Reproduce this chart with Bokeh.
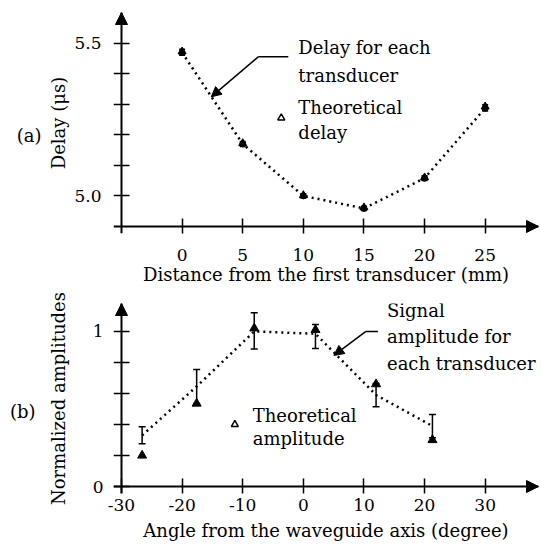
from bokeh.plotting import figure
from bokeh.layouts import column
from bokeh.models import (Range1d, FixedTicker, Whisker, TeeHead, Arrow, NormalHead,
                          Label, ColumnDataSource, LinearAxis, PrintfTickFormatter)
from bokeh.embed import file_html
from bokeh.resources import INLINE

# ---- data (a) ----
dist = [0, 5, 10, 15, 20, 25]
delay = [5.469, 5.170, 5.000, 4.959, 5.058, 5.287]
delay_theory = [5.472, 5.172, 5.002, 4.962, 5.060, 5.292]
delay_lo = [5.460, 5.162, 4.993, 4.952, 5.050, 5.278]
delay_hi = [5.480, 5.178, 5.007, 4.966, 5.066, 5.298]
delay_ticks = [5.0, 5.1, 5.2, 5.3, 5.4, 5.5]
delay_label_ticks = [5.0, 5.5]
dist_ticks = [0, 5, 10, 15, 20, 25]

# ---- data (b) ----
angle = [-26.6, -17.6, -8.1, 2.0, 12.0, 21.3]
amp = [0.33, 0.645, 1.0, 0.985, 0.59, 0.39]
amp_lo = [0.275, 0.535, 0.886, 0.89, 0.515, 0.315]
amp_hi = [0.385, 0.755, 1.12, 1.045, 0.665, 0.465]
amp_theory = [0.20, 0.535, 1.02, 1.01, 0.66, 0.30]
amp_ticks = [0.0, 0.2, 0.4, 0.6, 0.8, 1.0]
amp_label_ticks = [0, 1]
angle_ticks = [-30, -20, -10, 0, 10, 20, 30]

FONT = "DejaVu Serif"
TICK_FS = "17px"
LAB_FS = "18px"
TXT_FS = "18px"


def style(p, xticks, yticks, ylabel_ticks, x_origin, y_origin, yfmt):
    p.grid.visible = False
    p.outline_line_color = None
    p.background_fill_color = "white"
    p.border_fill_color = "white"
    p.xaxis.ticker = FixedTicker(ticks=xticks)
    p.yaxis.ticker = FixedTicker(ticks=ylabel_ticks)
    p.xaxis.formatter = PrintfTickFormatter(format="%d")
    p.yaxis.formatter = PrintfTickFormatter(format=yfmt)
    # label-only axes on the frame edges
    for ax in (p.xaxis[0], p.yaxis[0]):
        ax.axis_line_color = None
        ax.major_tick_line_color = None
        ax.minor_tick_line_color = None
        ax.major_tick_in = 0
        ax.major_tick_out = 0
        ax.major_label_text_font = FONT
        ax.major_label_text_font_size = TICK_FS
        ax.major_label_text_color = "black"
        ax.axis_label_text_font = FONT
        ax.axis_label_text_font_size = LAB_FS
        ax.axis_label_text_font_style = "normal"
        ax.axis_label_text_color = "black"
    # line-and-tick axes through the origin (no labels)
    common = dict(axis_line_width=2, axis_line_color="black", major_tick_line_width=1.5,
                  major_tick_line_color="black", major_tick_in=8, major_tick_out=8,
                  minor_tick_line_color=None, major_label_text_font_size="0px",
                  major_label_text_color=None, major_label_standoff=0)
    xa = LinearAxis(fixed_location=y_origin, ticker=FixedTicker(ticks=xticks), **common)
    ya = LinearAxis(fixed_location=x_origin, ticker=FixedTicker(ticks=yticks), **common)
    p.add_layout(xa, "above")
    p.add_layout(ya, "left")


def tag(p, text, standoff):
    ax = LinearAxis(axis_label="\n" + text, axis_label_orientation="horizontal",
                    axis_line_color=None, major_tick_line_color=None,
                    minor_tick_line_color=None, major_label_text_font_size="0px",
                    major_label_text_color=None,
                    major_tick_in=0, major_tick_out=0, major_label_standoff=0,
                    axis_label_text_font=FONT, axis_label_text_font_size=TXT_FS,
                    axis_label_text_font_style="normal", axis_label_text_color="black",
                    axis_label_standoff=standoff, ticker=FixedTicker(ticks=[]))
    p.add_layout(ax, "left")


def label(p, x, y, t, size=TXT_FS, align="left"):
    p.add_layout(Label(x=x, y=y, text=t, text_font=FONT, text_font_size=size,
                       text_baseline="middle", text_align=align, text_color="black"))


def arrowhead(p, xs, ys, xe, ye):
    p.add_layout(Arrow(x_start=xs, y_start=ys, x_end=xe, y_end=ye, line_width=2,
                       end=NormalHead(size=12, fill_color="black", line_color="black")))


# ================= panel (a) =================
x0a, x1a, y0a, y1a = -5, 29.4, 4.9, 5.6
p1 = figure(frame_width=425, frame_height=221, output_backend="svg", toolbar_location=None,
            x_range=Range1d(-5.66, x1a), y_range=Range1d(4.877, y1a),
            min_border_left=113, min_border_top=12, min_border_right=1, min_border_bottom=40)
p1.xaxis.axis_label = "Distance from the first transducer (mm)"
p1.yaxis.axis_label = "Delay (μs)"
p1.xaxis.major_label_standoff = 15
p1.xaxis.axis_label_standoff = 0
p1.yaxis.major_label_standoff = 12
p1.yaxis.axis_label_standoff = 2
tag(p1, "(a)", 4)
style(p1, dist_ticks, delay_ticks, delay_label_ticks, x0a, y0a, "%.1f")

src_a = ColumnDataSource(dict(x=dist, y=delay, t=delay_theory, lo=delay_lo, hi=delay_hi))
p1.line("x", "y", source=src_a, line_color="black", line_width=2.5, line_dash="2 4")
p1.add_layout(Whisker(base="x", lower="lo", upper="hi", source=src_a, line_width=1.5,
                      upper_head=TeeHead(size=6, line_width=1.5),
                      lower_head=TeeHead(size=6, line_width=1.5)))
p1.scatter("x", "y", source=src_a, marker="circle", size=6, color="black")
p1.scatter("x", "t", source=src_a, marker="triangle", size=8, color="black")

arrowhead(p1, x1a - 1, y0a, x1a, y0a)
arrowhead(p1, x0a, y1a - 0.02, x0a, y1a)

p1.line([8.76, 6.28], [5.455, 5.455], line_color="black", line_width=1.5)
p1.add_layout(Arrow(x_start=6.28, y_start=5.455, x_end=2.40, y_end=5.324, line_width=1.5,
                    end=NormalHead(size=10, fill_color="black", line_color="black")))
label(p1, 9.59, 5.485, "Delay for each")
label(p1, 9.59, 5.393, "transducer")
label(p1, 9.59, 5.288, "Theoretical")
label(p1, 9.59, 5.209, "delay")
p1.scatter([8.18], [5.255], marker="triangle", size=7, fill_color="white",
           line_color="black", line_width=1.5)

# ================= panel (b) =================
x0b, x1b, y0b, y1b = -30, 38.8, 0.0, 1.18
p2 = figure(frame_width=425, frame_height=190, output_backend="svg", toolbar_location=None,
            x_range=Range1d(-31.32, x1b), y_range=Range1d(-0.045, y1b),
            min_border_left=113, min_border_top=16, min_border_right=1, min_border_bottom=30)
p2.xaxis.axis_label = "Angle from the waveguide axis (degree)"
p2.yaxis.axis_label = "Normalized amplitudes"
p2.xaxis.major_label_standoff = 5
p2.xaxis.axis_label_standoff = 6
p2.yaxis.major_label_standoff = 10
p2.yaxis.axis_label_standoff = 21
tag(p2, "(b)", 9)
style(p2, angle_ticks, amp_ticks, amp_label_ticks, x0b, y0b, "%d")

src_b = ColumnDataSource(dict(x=angle, y=amp, t=amp_theory, lo=amp_lo, hi=amp_hi))
p2.line("x", "y", source=src_b, line_color="black", line_width=2.5, line_dash="2 4")
p2.add_layout(Whisker(base="x", lower="lo", upper="hi", source=src_b, line_width=1.5,
                      upper_head=TeeHead(size=7, line_width=1.5),
                      lower_head=TeeHead(size=7, line_width=1.5)))
p2.scatter("x", "t", source=src_b, marker="triangle", size=9, color="black")

arrowhead(p2, x1b - 1, y0b, x1b, y0b)
arrowhead(p2, x0b, y1b - 0.03, x0b, y1b)

p2.line([12.31, 10.33], [1.0, 1.0], line_color="black", line_width=1.5)
p2.add_layout(Arrow(x_start=10.33, y_start=1.0, x_end=5.04, y_end=0.845, line_width=1.5,
                    end=NormalHead(size=10, fill_color="black", line_color="black")))
label(p2, 13.8, 1.135, "Signal")
label(p2, 13.8, 0.968, "amplitude for")
label(p2, 13.8, 0.794, "each transducer")
label(p2, -8.35, 0.458, "Theoretical")
label(p2, -8.35, 0.31, "amplitude")
p2.scatter([-11.3], [0.40], marker="triangle", size=7, fill_color="white",
           line_color="black", line_width=1.5)

layout = column(p1, p2, spacing=0)
open("out.html", "w").write(file_html(layout, INLINE))
